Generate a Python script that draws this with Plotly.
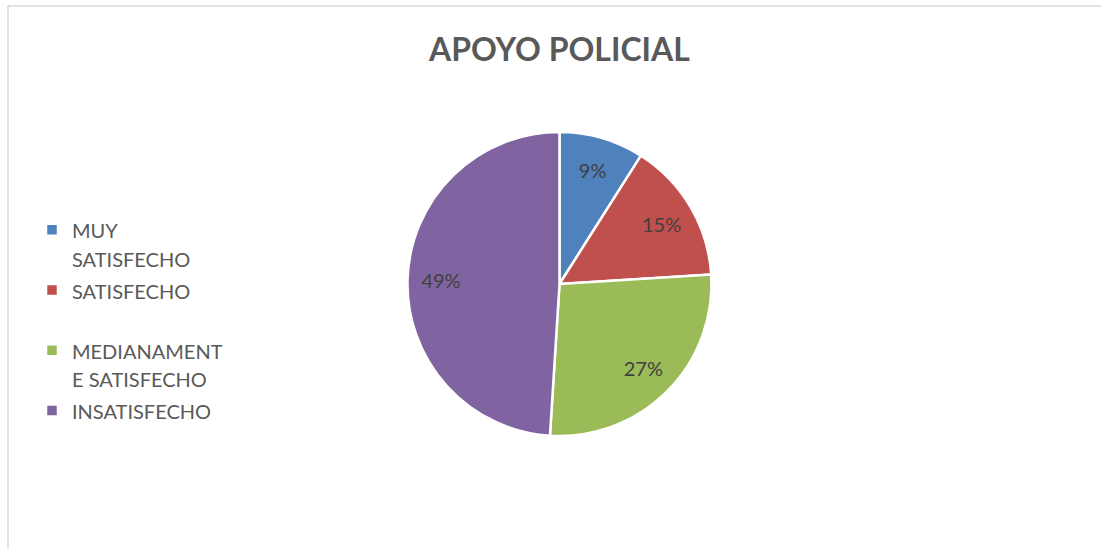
import plotly.graph_objects as go

# Data
categories = ["MUY<br>SATISFECHO", "SATISFECHO<br> ", "MEDIANAMENT<br>E SATISFECHO", "INSATISFECHO"]
values = [9, 15, 27, 49]
colors = ["#4F81BD", "#C0504D", "#9BBB59", "#8064A2"]
title_text = "APOYO POLICIAL"

W, H = 1101, 548

legend_labels = ['<span style="font-size:20px">' + c + '</span>' for c in categories]

dom = dict(x=[407.5 / W, 711.5 / W], y=[(H - 436) / H, (H - 132) / H])

fig = go.Figure()
# Main pie (slices + legend)
fig.add_trace(
    go.Pie(
        labels=legend_labels,
        values=values,
        sort=False,
        direction="clockwise",
        rotation=0,
        marker=dict(colors=colors, line=dict(color="white", width=2.5)),
        textinfo="none",
        domain=dom,
        hoverinfo="label+percent",
    )
)
# Transparent ring carrying the percentage labels (placed by the library in the outer ring)
fig.add_trace(
    go.Pie(
        labels=legend_labels,
        values=values,
        sort=False,
        direction="clockwise",
        rotation=0,
        hole=0.56,
        marker=dict(colors=["rgba(0,0,0,0)"] * len(values), line=dict(width=0)),
        texttemplate="%{percent:.0%}",
        textposition="inside",
        insidetextorientation="horizontal",
        textfont=dict(family="Lato", size=20, color="#404040"),
        domain=dom,
        showlegend=False,
        hoverinfo="skip",
    )
)

fig.update_layout(
    width=W,
    height=H,
    margin=dict(l=0, r=0, t=0, b=0),
    paper_bgcolor="white",
    plot_bgcolor="white",
    title=dict(
        text="<b>" + title_text + "</b>",
        x=559.5 / W,
        xanchor="center",
        xref="paper",
        y=1 - 50 / H,
        yanchor="middle",
        yref="paper",
        font=dict(family="Lato", size=32, color="#595959"),
    ),
    legend=dict(
        x=32 / W,
        xanchor="left",
        y=1 - 209 / H,
        yanchor="top",
        valign="top",
        font=dict(family="Lato", size=22, color="#595959"),
        bgcolor="rgba(0,0,0,0)",
    ),
    shapes=[
        dict(type="line", xref="paper", yref="paper", x0=8 / W, x1=1.0, y0=1 - 6 / H, y1=1 - 6 / H,
             line=dict(color="#D9D9D9", width=1.5)),
        dict(type="line", xref="paper", yref="paper", x0=8 / W, x1=8 / W, y0=1 - 6 / H, y1=0,
             line=dict(color="#D9D9D9", width=1.5)),
    ],
)

fig.write_html(
    "out.html",
    config={"displayModeBar": False},
    post_script="document.body.style.margin='0px';",
)
